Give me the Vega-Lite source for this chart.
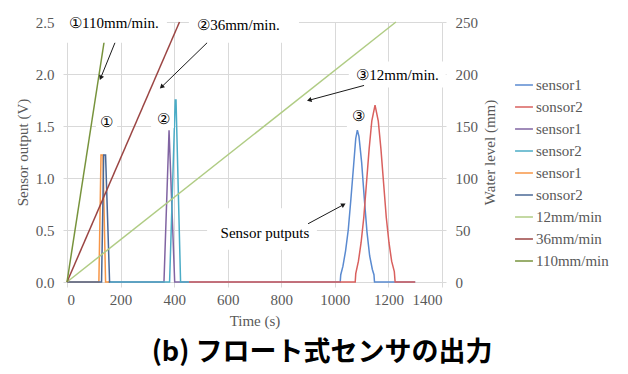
{
  "$schema": "https://vega.github.io/schema/vega-lite/v6.json",
  "width": 375,
  "height": 260,
  "padding": {"left": 15, "top": 9, "right": 5, "bottom": 5},
  "background": "white",
  "config": {
    "view": {"stroke": null},
    "font": "Liberation Serif, DejaVu Serif, serif",
    "axis": {
      "labelFont": "Liberation Serif, DejaVu Serif, serif",
      "labelFontSize": 15,
      "labelColor": "#595959",
      "titleFont": "Liberation Serif, DejaVu Serif, serif",
      "titleFontSize": 15,
      "titleFontWeight": "normal",
      "titleColor": "#595959",
      "gridColor": "#d9d9d9",
      "tickColor": "#d9d9d9",
      "domain": false,
      "tickSize": 4
    },
    "legend": {
      "labelFont": "Liberation Serif, DejaVu Serif, serif"
    }
  },
  "title": {
    "text": "(b)  フロート式センサの出力",
    "orient": "bottom",
    "anchor": "middle",
    "frame": "bounds",
    "font": "Noto Sans CJK JP",
    "fontSize": 27,
    "fontWeight": "bold",
    "color": "#000000",
    "offset": 12,
    "dx": 10
  },
  "datasets": {
    "sensors": [
      {"s": "1", "t": 455, "v": 0}, {"s": "1", "t": 1020, "v": 0}, {"s": "1", "t": 1022, "v": 0.07},
      {"s": "1", "t": 1030, "v": 0.15}, {"s": "1", "t": 1040, "v": 0.3}, {"s": "1", "t": 1050, "v": 0.5},
      {"s": "1", "t": 1060, "v": 0.8}, {"s": "1", "t": 1070, "v": 1.12}, {"s": "1", "t": 1078, "v": 1.38},
      {"s": "1", "t": 1084, "v": 1.46}, {"s": "1", "t": 1090, "v": 1.4}, {"s": "1", "t": 1100, "v": 1.15},
      {"s": "1", "t": 1110, "v": 0.8}, {"s": "1", "t": 1120, "v": 0.48}, {"s": "1", "t": 1130, "v": 0.25},
      {"s": "1", "t": 1140, "v": 0.12}, {"s": "1", "t": 1146, "v": 0.07}, {"s": "1", "t": 1148, "v": 0},
      {"s": "1", "t": 1300, "v": 0},
      {"s": "2", "t": 455, "v": 0}, {"s": "2", "t": 1076, "v": 0}, {"s": "2", "t": 1078, "v": 0.08},
      {"s": "2", "t": 1088, "v": 0.2}, {"s": "2", "t": 1098, "v": 0.38}, {"s": "2", "t": 1108, "v": 0.62},
      {"s": "2", "t": 1118, "v": 0.95}, {"s": "2", "t": 1128, "v": 1.28}, {"s": "2", "t": 1138, "v": 1.55},
      {"s": "2", "t": 1150, "v": 1.7}, {"s": "2", "t": 1162, "v": 1.55}, {"s": "2", "t": 1172, "v": 1.28},
      {"s": "2", "t": 1182, "v": 0.95}, {"s": "2", "t": 1192, "v": 0.62}, {"s": "2", "t": 1202, "v": 0.38},
      {"s": "2", "t": 1212, "v": 0.2}, {"s": "2", "t": 1222, "v": 0.1}, {"s": "2", "t": 1225, "v": 0},
      {"s": "2", "t": 1300, "v": 0},
      {"s": "3", "t": 155, "v": 0}, {"s": "3", "t": 362, "v": 0}, {"s": "3", "t": 381, "v": 1.46},
      {"s": "3", "t": 402, "v": 0}, {"s": "3", "t": 455, "v": 0},
      {"s": "4", "t": 155, "v": 0}, {"s": "4", "t": 383, "v": 0}, {"s": "4", "t": 404, "v": 1.75},
      {"s": "4", "t": 407, "v": 1.75}, {"s": "4", "t": 424, "v": 0}, {"s": "4", "t": 455, "v": 0},
      {"s": "5", "t": 0, "v": 0}, {"s": "5", "t": 119, "v": 0}, {"s": "5", "t": 127, "v": 1.22},
      {"s": "5", "t": 134, "v": 1.22}, {"s": "5", "t": 144, "v": 0}, {"s": "5", "t": 157, "v": 0},
      {"s": "6", "t": 0, "v": 0}, {"s": "6", "t": 129, "v": 0}, {"s": "6", "t": 137, "v": 1.22},
      {"s": "6", "t": 144, "v": 1.22}, {"s": "6", "t": 159, "v": 0}, {"s": "6", "t": 160, "v": 0}
    ],
    "water": [
      {"s": "7", "t": 0, "mm": 0}, {"s": "7", "t": 1228, "mm": 250},
      {"s": "8", "t": 0, "mm": 0}, {"s": "8", "t": 420, "mm": 250},
      {"s": "9", "t": 0, "mm": 0}, {"s": "9", "t": 150, "mm": 250}
    ],
    "boxes": [
      {"t1": -22, "t2": 373, "v1": 2.3, "v2": 2.62},
      {"t1": 455, "t2": 866, "v1": 2.3, "v2": 2.62},
      {"t1": 1052, "t2": 1414, "v1": 1.87, "v2": 2.12},
      {"t1": 108, "t2": 187, "v1": 1.42, "v2": 1.65},
      {"t1": 314, "t2": 399, "v1": 1.48, "v2": 1.67},
      {"t1": 1045, "t2": 1131, "v1": 1.49, "v2": 1.7},
      {"t1": 523, "t2": 933, "v1": 0.31, "v2": 0.71}
    ],
    "notes": [
      {"label": "①110mm/min.", "t": 175, "v": 2.49},
      {"label": "②36mm/min.", "t": 640, "v": 2.47},
      {"label": "③12mm/min.", "t": 1234, "v": 1.99},
      {"label": "①", "t": 146, "v": 1.54},
      {"label": "②", "t": 362, "v": 1.57},
      {"label": "③", "t": 1090, "v": 1.6},
      {"label": "Sensor putputs", "t": 739, "v": 0.47}
    ],
    "arrows": [
      {"id": 1, "t1": 179, "v1": 2.3, "t2": 127, "v2": 1.97},
      {"id": 2, "t1": 523, "v1": 2.3, "t2": 355, "v2": 1.88},
      {"id": 3, "t1": 1109, "v1": 1.89, "t2": 907, "v2": 1.75},
      {"id": 4, "t1": 900, "v1": 0.56, "t2": 1030, "v2": 0.74}
    ]
  },
  "layer": [
    {
      "data": {"name": "sensors"},
      "mark": {"type": "line", "strokeWidth": 1.5},
      "encoding": {
        "x": {"field": "t", "type": "quantitative", "scale": {"domain": [0, 1400], "nice": false},
          "axis": {"title": "Time (s)", "values": [0, 200, 400, 600, 800, 1000, 1200, 1400], "format": "d", "grid": true, "labelPadding": 5, "titlePadding": 6, "tickSize": 5}},
        "y": {"field": "v", "type": "quantitative", "scale": {"domain": [0, 2.5], "nice": false},
          "axis": {"title": "Sensor output (V)", "values": [0, 0.5, 1, 1.5, 2, 2.5], "format": ".1f", "grid": true, "labelPadding": 9, "titlePadding": 5}},
        "color": {"field": "s", "type": "nominal",
          "scale": {"domain": ["1", "2", "3", "4", "5", "6", "7", "8", "9"],
            "range": ["#5A8AD0", "#D9605E", "#8064A2", "#4BACC6", "#F79646", "#4A6896", "#B0CC84", "#9B4543", "#77933C"]},
          "legend": {"title": null, "orient": "none", "legendX": 447, "legendY": 53, "symbolType": "stroke", "symbolStrokeWidth": 1.5, "symbolSize": 320,
            "labelFont": "Liberation Serif, DejaVu Serif, serif", "labelFontSize": 15, "labelColor": "#595959", "rowPadding": 4, "labelOffset": 2,
            "labelExpr": "['sensor1','sonsor2','sensor1','sensor2','sensor1','sonsor2','12mm/min','36mm/min','110mm/min'][toNumber(datum.label)-1]"}}
      }
    },
    {
      "data": {"name": "water"},
      "mark": {"type": "line", "strokeWidth": 1.5},
      "encoding": {
        "x": {"field": "t", "type": "quantitative", "title": "Time (s)"},
        "y": {"field": "mm", "type": "quantitative", "scale": {"domain": [0, 250], "nice": false},
          "axis": {"orient": "right", "title": "Water level (mm)", "values": [0, 50, 100, 150, 200, 250], "grid": false, "labelPadding": 9, "titlePadding": 5, "titleAngle": -90, "titleBaseline": "top"}},
        "color": {"field": "s", "type": "nominal"}
      }
    },
    {
      "data": {"name": "boxes"},
      "mark": {"type": "rect", "fill": "white"},
      "encoding": {
        "x": {"field": "t1", "type": "quantitative", "title": "Time (s)"},
        "x2": {"field": "t2"},
        "y": {"field": "v1", "type": "quantitative", "scale": {"domain": [0, 2.5], "nice": false}, "axis": null},
        "y2": {"field": "v2"}
      }
    },
    {
      "data": {"name": "notes"},
      "mark": {"type": "text", "font": "Liberation Serif, DejaVu Serif, serif", "fontSize": 15, "color": "#000000", "align": "center", "baseline": "middle"},
      "encoding": {
        "x": {"field": "t", "type": "quantitative", "title": "Time (s)"},
        "y": {"field": "v", "type": "quantitative", "scale": {"domain": [0, 2.5], "nice": false}, "axis": null},
        "text": {"field": "label"}
      }
    },
    {
      "data": {"name": "arrows"},
      "mark": {"type": "rule", "color": "#1a1a1a", "strokeWidth": 1},
      "encoding": {
        "x": {"field": "t1", "type": "quantitative", "title": "Time (s)"},
        "x2": {"field": "t2"},
        "y": {"field": "v1", "type": "quantitative", "scale": {"domain": [0, 2.5], "nice": false}, "axis": null},
        "y2": {"field": "v2"}
      }
    },
    {
      "data": {"name": "arrows"},
      "transform": [{"filter": "datum.id == 1"}],
      "mark": {"type": "point", "shape": "triangle", "filled": true, "color": "#1a1a1a", "opacity": 1, "size": 28, "angle": 202},
      "encoding": {
        "x": {"field": "t2", "type": "quantitative", "title": "Time (s)"},
        "y": {"field": "v2", "type": "quantitative", "scale": {"domain": [0, 2.5], "nice": false}, "axis": null}
      }
    },
    {
      "data": {"name": "arrows"},
      "transform": [{"filter": "datum.id == 2"}],
      "mark": {"type": "point", "shape": "triangle", "filled": true, "color": "#1a1a1a", "opacity": 1, "size": 28, "angle": 226},
      "encoding": {
        "x": {"field": "t2", "type": "quantitative", "title": "Time (s)"},
        "y": {"field": "v2", "type": "quantitative", "scale": {"domain": [0, 2.5], "nice": false}, "axis": null}
      }
    },
    {
      "data": {"name": "arrows"},
      "transform": [{"filter": "datum.id == 3"}],
      "mark": {"type": "point", "shape": "triangle", "filled": true, "color": "#1a1a1a", "opacity": 1, "size": 28, "angle": 254},
      "encoding": {
        "x": {"field": "t2", "type": "quantitative", "title": "Time (s)"},
        "y": {"field": "v2", "type": "quantitative", "scale": {"domain": [0, 2.5], "nice": false}, "axis": null}
      }
    },
    {
      "data": {"name": "arrows"},
      "transform": [{"filter": "datum.id == 4"}],
      "mark": {"type": "point", "shape": "triangle", "filled": true, "color": "#1a1a1a", "opacity": 1, "size": 28, "angle": 61},
      "encoding": {
        "x": {"field": "t2", "type": "quantitative", "title": "Time (s)"},
        "y": {"field": "v2", "type": "quantitative", "scale": {"domain": [0, 2.5], "nice": false}, "axis": null}
      }
    }
  ],
  "resolve": {"scale": {"y": "independent"}}
}
